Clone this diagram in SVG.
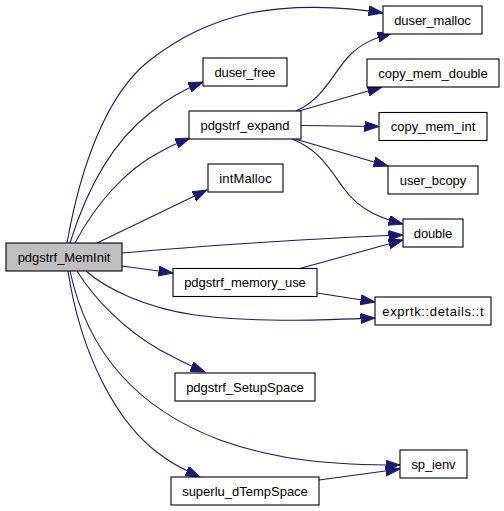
<svg xmlns="http://www.w3.org/2000/svg" width="504" height="511" viewBox="0 0 504 511">
<style>
.n rect{fill:#fff;stroke:#000;stroke-width:1.1}
.n.root rect{fill:#bfbfbf}
.n text{font-family:"Liberation Sans",Arial,Helvetica,sans-serif;font-size:13px;fill:#000;text-anchor:middle}
.e path{fill:none;stroke:#191970;stroke-width:1.1;marker-end:url(#ah)}
</style>
<defs>
<marker id="ah" markerUnits="userSpaceOnUse" markerWidth="16" markerHeight="12" refX="14.5" refY="5" orient="auto">
<path d="M0,0 L14.5,5 L0,10 z" fill="#191970" stroke="#191970" stroke-width="1"/>
</marker>
</defs>
<rect width="504" height="511" fill="#fff"/>
<g id="edges" class="e">
<path d="M67,243 C80,170 105,95 150,60 C180,37 210,22 250,13 C290,5 340,6 383,13"/>
<path d="M70,243 C88,185 115,140 150,113 C168,98 185,89 203,82"/>
<path d="M75,243 C95,205 125,170 160,152 C170,146 180,142 190,138"/>
<path d="M97,243 L207,190"/>
<path d="M122,253 C200,246 320,238 403,235"/>
<path d="M122,266 L173,273"/>
<path d="M86,271 C105,288 145,308 195,315 C255,323 320,320 375,318"/>
<path d="M77,271 C95,300 125,330 160,350 C175,358 190,366 205,372"/>
<path d="M70,271 C88,355 140,410 220,440 C280,462 340,465 400,465"/>
<path d="M68,271 C80,350 115,425 165,458 C176,466 187,471 200,477"/>
<path d="M319,480 L400,469"/>
<path d="M296,111 C325,98 333,72 350,55 C362,43 375,38 392,33"/>
<path d="M299,111 L382,87"/>
<path d="M301,125.5 L379,126.5"/>
<path d="M295,139 L388,166"/>
<path d="M292,139 C320,150 330,170 345,190 C360,210 380,218 403,224"/>
<path d="M298,269 L403,240"/>
<path d="M317,293 L375,302"/>
</g>
<g id="pdgstrf_MemInit" class="n root"><rect x="6" y="243" width="116" height="28"/><text x="64" y="261.5" textLength="92.7" lengthAdjust="spacing">pdgstrf_MemInit</text></g>
<g id="duser_malloc" class="n"><rect x="383" y="6" width="99" height="28"/><text x="432.5" y="24.5" textLength="76.7" lengthAdjust="spacing">duser_malloc</text></g>
<g id="duser_free" class="n"><rect x="203" y="58" width="84" height="28"/><text x="245" y="76.5" textLength="61" lengthAdjust="spacing">duser_free</text></g>
<g id="copy_mem_double" class="n"><rect x="367" y="59" width="132" height="28"/><text x="433" y="77.5" textLength="109.3" lengthAdjust="spacing">copy_mem_double</text></g>
<g id="pdgstrf_expand" class="n"><rect x="189" y="111" width="112" height="28"/><text x="245" y="129.5" textLength="89" lengthAdjust="spacing">pdgstrf_expand</text></g>
<g id="copy_mem_int" class="n"><rect x="379" y="112.5" width="108" height="28"/><text x="433" y="131" textLength="84.7" lengthAdjust="spacing">copy_mem_int</text></g>
<g id="intMalloc" class="n"><rect x="208" y="164" width="75" height="28"/><text x="245.5" y="182.5" textLength="52.3" lengthAdjust="spacing">intMalloc</text></g>
<g id="user_bcopy" class="n"><rect x="388" y="166" width="90" height="28"/><text x="433" y="184.5" textLength="66.3" lengthAdjust="spacing">user_bcopy</text></g>
<g id="double" class="n"><rect x="403" y="219" width="60" height="28"/><text x="433" y="237.5" textLength="38.3" lengthAdjust="spacing">double</text></g>
<g id="pdgstrf_memory_use" class="n"><rect x="173" y="268.5" width="144" height="28"/><text x="245" y="287" textLength="121.7" lengthAdjust="spacing">pdgstrf_memory_use</text></g>
<g id="exprtk_details_t" class="n"><rect x="375" y="297" width="116" height="28"/><text x="433" y="315.5" textLength="101.3" lengthAdjust="spacing">exprtk::details::t</text></g>
<g id="pdgstrf_SetupSpace" class="n"><rect x="175" y="373" width="140" height="28"/><text x="245" y="391.5" textLength="117.7" lengthAdjust="spacing">pdgstrf_SetupSpace</text></g>
<g id="sp_ienv" class="n"><rect x="400" y="450" width="67" height="28"/><text x="433.5" y="468.5" textLength="44" lengthAdjust="spacing">sp_ienv</text></g>
<g id="superlu_dTempSpace" class="n"><rect x="171" y="477" width="148" height="28"/><text x="245" y="495.5" textLength="125.7" lengthAdjust="spacing">superlu_dTempSpace</text></g>
</svg>
